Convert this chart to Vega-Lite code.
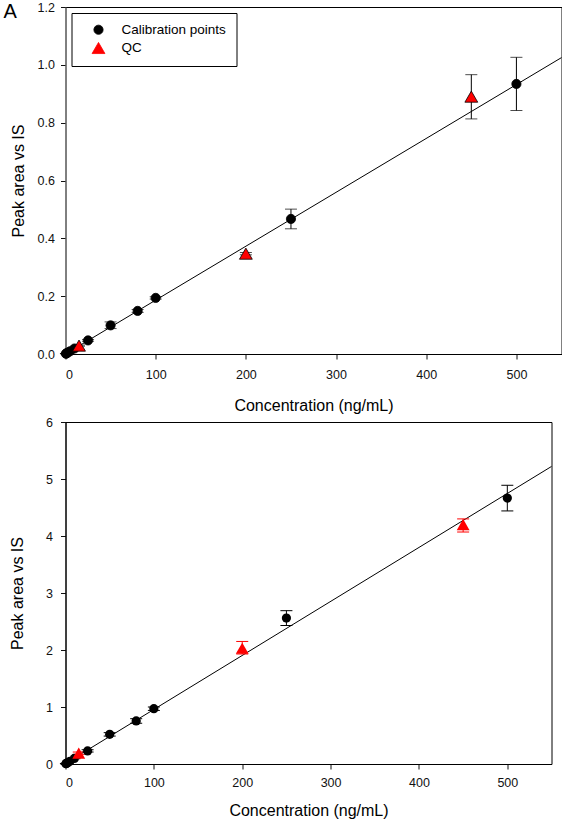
{
  "$schema": "https://vega.github.io/schema/vega-lite/v6.json",
  "padding": {"left": 2.5, "top": 0, "right": 0, "bottom": 0},
  "spacing": 1,
  "config": {
    "font": "Liberation Sans",
    "view": {"stroke": "black", "strokeWidth": 1},
    "axis": {
      "grid": false,
      "tickSize": 5,
      "tickColor": "#111",
      "domainColor": "#111",
      "labelFont": "Liberation Sans",
      "labelFontSize": 12.5,
      "labelColor": "#111",
      "titleFont": "Liberation Sans",
      "titleFontSize": 16,
      "titleFontWeight": "normal",
      "titleColor": "#000"
    },
    "legend": {
      "title": null,
      "orient": "top-left",
      "offset": 9,
      "padding": 10,
      "symbolOffset": 10,
      "labelOffset": 16,
      "rowPadding": 3,
      "strokeColor": "black",
      "fillColor": "white",
      "labelFont": "Liberation Sans",
      "labelFontSize": 13.5,
      "labelColor": "#000"
    }
  },
  "datasets": {
    "a": [
      {"conc": 0.5, "value": 0.001, "lo": 0.001, "hi": 0.001, "type": "Calibration points"},
      {"conc": 1, "value": 0.002, "lo": 0.002, "hi": 0.002, "type": "Calibration points"},
      {"conc": 2.5, "value": 0.005, "lo": 0.005, "hi": 0.005, "type": "Calibration points"},
      {"conc": 5, "value": 0.0095, "lo": 0.009, "hi": 0.010, "type": "Calibration points"},
      {"conc": 10, "value": 0.019, "lo": 0.018, "hi": 0.020, "type": "Calibration points"},
      {"conc": 25, "value": 0.047, "lo": 0.044, "hi": 0.050, "type": "Calibration points"},
      {"conc": 50, "value": 0.099, "lo": 0.088, "hi": 0.111, "type": "Calibration points"},
      {"conc": 80, "value": 0.149, "lo": 0.144, "hi": 0.154, "type": "Calibration points"},
      {"conc": 100, "value": 0.194, "lo": 0.190, "hi": 0.198, "type": "Calibration points"},
      {"conc": 250, "value": 0.467, "lo": 0.433, "hi": 0.501, "type": "Calibration points"},
      {"conc": 500, "value": 0.934, "lo": 0.842, "hi": 1.026, "type": "Calibration points"},
      {"conc": 15, "value": 0.029, "lo": 0.027, "hi": 0.031, "type": "QC"},
      {"conc": 200, "value": 0.347, "lo": 0.343, "hi": 0.351, "type": "QC"},
      {"conc": 450, "value": 0.89, "lo": 0.813, "hi": 0.966, "type": "QC"}
    ],
    "aline": [
      {"conc": 0, "value": 0},
      {"conc": 550, "value": 1.025}
    ],
    "b": [
      {"conc": 0.5, "value": 0.005, "lo": 0.005, "hi": 0.005, "type": "Calibration points"},
      {"conc": 1, "value": 0.01, "lo": 0.01, "hi": 0.01, "type": "Calibration points"},
      {"conc": 2.5, "value": 0.024, "lo": 0.022, "hi": 0.026, "type": "Calibration points"},
      {"conc": 5, "value": 0.048, "lo": 0.045, "hi": 0.051, "type": "Calibration points"},
      {"conc": 10, "value": 0.097, "lo": 0.092, "hi": 0.102, "type": "Calibration points"},
      {"conc": 25, "value": 0.23, "lo": 0.21, "hi": 0.25, "type": "Calibration points"},
      {"conc": 50, "value": 0.52, "lo": 0.49, "hi": 0.55, "type": "Calibration points"},
      {"conc": 80, "value": 0.755, "lo": 0.715, "hi": 0.795, "type": "Calibration points"},
      {"conc": 100, "value": 0.97, "lo": 0.94, "hi": 1.0, "type": "Calibration points"},
      {"conc": 250, "value": 2.56, "lo": 2.43, "hi": 2.69, "type": "Calibration points"},
      {"conc": 500, "value": 4.665, "lo": 4.44, "hi": 4.89, "type": "Calibration points"},
      {"conc": 15, "value": 0.19, "lo": 0.17, "hi": 0.21, "type": "QC"},
      {"conc": 200, "value": 2.03, "lo": 1.93, "hi": 2.15, "type": "QC"},
      {"conc": 450, "value": 4.2, "lo": 4.07, "hi": 4.30, "type": "QC"}
    ],
    "bline": [
      {"conc": 0, "value": 0.01},
      {"conc": 550, "value": 5.22}
    ]
  },
  "vconcat": [
    {
      "width": 496,
      "height": 347,
      "title": {"text": "A", "anchor": "start", "frame": "group", "orient": "top", "fontSize": 20, "fontWeight": "normal", "font": "Liberation Sans", "color": "#000", "baseline": "alphabetic", "dx": -62, "dy": 37, "offset": 0},
      "layer": [
        {
          "data": {"name": "aline"},
          "mark": {"type": "line", "color": "black", "strokeWidth": 1},
          "encoding": {
            "x": {"field": "conc", "type": "quantitative"},
            "y": {"field": "value", "type": "quantitative"}
          }
        },
        {
          "data": {"name": "a"},
          "mark": {"type": "rule", "color": "black", "strokeWidth": 1},
          "encoding": {
            "x": {"field": "conc", "type": "quantitative"},
            "y": {"field": "lo", "type": "quantitative"},
            "y2": {"field": "hi"}
          }
        },
        {
          "data": {"name": "a"},
          "mark": {"type": "tick", "orient": "horizontal", "size": 12, "thickness": 1, "color": "black"},
          "encoding": {
            "x": {"field": "conc", "type": "quantitative"},
            "y": {"field": "lo", "type": "quantitative"}
          }
        },
        {
          "data": {"name": "a"},
          "mark": {"type": "tick", "orient": "horizontal", "size": 12, "thickness": 1, "color": "black"},
          "encoding": {
            "x": {"field": "conc", "type": "quantitative"},
            "y": {"field": "hi", "type": "quantitative"}
          }
        },
        {
          "data": {"name": "a"},
          "mark": {"type": "point", "filled": true, "opacity": 1, "stroke": "black", "strokeWidth": 0.8},
          "encoding": {
            "x": {"field": "conc", "type": "quantitative", "title": "Concentration (ng/mL)",
                  "scale": {"domain": [0, 550], "nice": false, "zero": false},
                  "axis": {"values": [0, 100, 200, 300, 400, 500], "labelPadding": 9, "titlePadding": 17, "domainColor": "#000"}},
            "y": {"field": "value", "type": "quantitative", "title": "Peak area vs IS",
                  "scale": {"domain": [0, 1.2], "nice": false},
                  "axis": {"values": [0, 0.2, 0.4, 0.6, 0.8, 1.0, 1.2], "format": ".1f", "labelPadding": 6, "titlePadding": 11, "domainColor": "#808080"}},
            "color": {"field": "type", "type": "nominal", "scale": {"domain": ["Calibration points", "QC"], "range": ["black", "red"]},
                      "legend": {"symbolStrokeColor": "black", "symbolStrokeWidth": 0.8}},
            "shape": {"field": "type", "type": "nominal", "scale": {"domain": ["Calibration points", "QC"], "range": ["circle", "triangle-up"]}},
            "size": {"field": "type", "type": "nominal", "scale": {"domain": ["Calibration points", "QC"], "range": [85, 165]}}
          }
        }
      ]
    },
    {
      "width": 486,
      "height": 342,
      "layer": [
        {
          "data": {"name": "bline"},
          "mark": {"type": "line", "color": "black", "strokeWidth": 1},
          "encoding": {
            "x": {"field": "conc", "type": "quantitative"},
            "y": {"field": "value", "type": "quantitative"}
          }
        },
        {
          "data": {"name": "b"},
          "mark": {"type": "rule", "strokeWidth": 1},
          "encoding": {
            "x": {"field": "conc", "type": "quantitative"},
            "y": {"field": "lo", "type": "quantitative"},
            "y2": {"field": "hi"},
            "color": {"field": "type", "type": "nominal", "legend": null}
          }
        },
        {
          "data": {"name": "b"},
          "mark": {"type": "tick", "orient": "horizontal", "size": 12, "thickness": 1, "opacity": 1},
          "encoding": {
            "x": {"field": "conc", "type": "quantitative"},
            "y": {"field": "lo", "type": "quantitative"},
            "color": {"field": "type", "type": "nominal", "legend": null}
          }
        },
        {
          "data": {"name": "b"},
          "mark": {"type": "tick", "orient": "horizontal", "size": 12, "thickness": 1, "opacity": 1},
          "encoding": {
            "x": {"field": "conc", "type": "quantitative"},
            "y": {"field": "hi", "type": "quantitative"},
            "color": {"field": "type", "type": "nominal", "legend": null}
          }
        },
        {
          "data": {"name": "b"},
          "mark": {"type": "point", "filled": true, "opacity": 1, "strokeWidth": 0},
          "encoding": {
            "x": {"field": "conc", "type": "quantitative", "title": "Concentration (ng/mL)",
                  "scale": {"domain": [0, 550], "nice": false, "zero": false},
                  "axis": {"values": [0, 100, 200, 300, 400, 500], "labelPadding": 7.5, "titlePadding": 13.5, "domainColor": "#000"}},
            "y": {"field": "value", "type": "quantitative", "title": "Peak area vs IS",
                  "scale": {"domain": [0, 6], "nice": false},
                  "axis": {"values": [0, 1, 2, 3, 4, 5, 6], "format": "d", "labelPadding": 8, "titlePadding": 20, "domainColor": "#000"}},
            "color": {"field": "type", "type": "nominal", "scale": {"domain": ["Calibration points", "QC"], "range": ["black", "red"]},
                      "legend": {"offset": 6}},
            "shape": {"field": "type", "type": "nominal", "scale": {"domain": ["Calibration points", "QC"], "range": ["circle", "triangle-up"]}},
            "size": {"field": "type", "type": "nominal", "scale": {"domain": ["Calibration points", "QC"], "range": [80, 180]}}
          }
        }
      ]
    }
  ]
}
